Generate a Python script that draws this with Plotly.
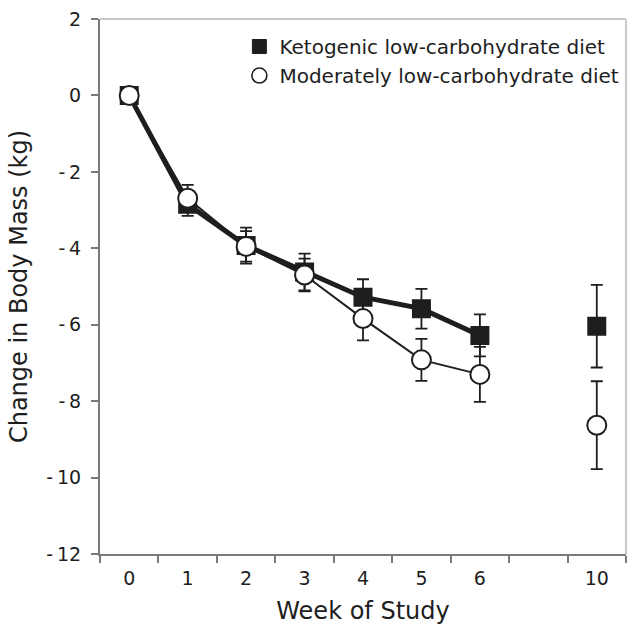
import plotly.graph_objects as go

# ---- data ----
slots = ["0", "1", "2", "3", "4", "5", "6", "gap", "10"]          # category slots on x
slot_labels = ["0", "1", "2", "3", "4", "5", "6", "", "10"]       # shown tick labels
weeks = ["0", "1", "2", "3", "4", "5", "6", "10"]

keto_mean = [0.0, -2.85, -3.93, -4.62, -5.28, -5.58, -6.28, -6.04]
keto_err = [0.0, 0.30, 0.47, 0.48, 0.47, 0.52, 0.55, 1.08]

mod_mean = [0.0, -2.69, -3.95, -4.70, -5.84, -6.92, -7.30, -8.63]
mod_err = [0.0, 0.35, 0.40, 0.43, 0.57, 0.55, 0.72, 1.15]

series_names = ["Ketogenic low-carbohydrate diet", "Moderately low-carbohydrate diet"]

y_ticks = [2, 0, -2, -4, -6, -8, -10, -12]
y_tick_text = ["2", "0", "-\u20092", "-\u20094", "-\u20096", "-\u20098", "-\u200910", "-\u200912"]

INK = "#1e1e1e"
AXIS = "#7a7a7a"
FRAME = "#c9c9c9"
FONT = "DejaVu Sans, Liberation Sans, Arial, sans-serif"

fig = go.Figure()

n_conn = 7  # weeks 0-6 connected; week 10 stands alone


def add_series(mean, err, symbol, fill, lw, msize):
    eb = dict(type="data", visible=True, color=INK, thickness=1.8, width=6)
    fig.add_trace(go.Scatter(
        x=weeks[:n_conn], y=mean[:n_conn], mode="lines+markers",
        line=dict(color=INK, width=lw),
        marker=dict(symbol=symbol, size=msize, color=fill, line=dict(color=INK, width=2)),
        error_y=dict(array=err[:n_conn], **eb), showlegend=False, hoverinfo="skip"))
    fig.add_trace(go.Scatter(
        x=weeks[n_conn:], y=mean[n_conn:], mode="markers",
        marker=dict(symbol=symbol, size=msize, color=fill, line=dict(color=INK, width=2)),
        error_y=dict(array=err[n_conn:], **eb), showlegend=False, hoverinfo="skip"))


add_series(keto_mean, keto_err, "square", INK, 5, 17)
add_series(mod_mean, mod_err, "circle", "white", 2, 19)

# legend-only entries (markers, no lines)
fig.add_trace(go.Scatter(x=[None], y=[None], mode="markers", name=series_names[0],
                         marker=dict(symbol="square", size=14, color=INK, line=dict(color=INK, width=1))))
fig.add_trace(go.Scatter(x=[None], y=[None], mode="markers", name=series_names[1],
                         marker=dict(symbol="circle", size=15, color="white", line=dict(color=INK, width=1.6))))

fig.update_layout(
    width=630, height=631,
    margin=dict(l=100, r=4, t=19, b=77),
    paper_bgcolor="white", plot_bgcolor="white",
    font=dict(family=FONT, color=INK, size=19),
    showlegend=True,
    legend=dict(x=0.265, y=0.985, xanchor="left", yanchor="top",
                bgcolor="rgba(0,0,0,0)", font=dict(size=20, color=INK),
                itemsizing="trace", tracegroupgap=0),
    xaxis=dict(
        type="category", categoryorder="array", categoryarray=slots,
        tickmode="array", tickvals=slots, ticktext=slot_labels,
        range=[-0.5, 8.5], tickson="boundaries",
        ticks="outside", ticklen=7, tickwidth=2, tickcolor=AXIS,
        showline=True, linecolor=AXIS, linewidth=2, showgrid=False, zeroline=False,
        tickfont=dict(size=19), ticklabelstandoff=6,
        title=dict(text="Week of Study", font=dict(size=24), standoff=14),
    ),
    yaxis=dict(
        range=[-12, 2], tickmode="array", tickvals=y_ticks, ticktext=y_tick_text,
        ticks="outside", ticklen=7, tickwidth=2, tickcolor=AXIS,
        showline=True, linecolor=AXIS, linewidth=2, showgrid=False, zeroline=False,
        tickfont=dict(size=19), ticklabelstandoff=6,
        title=dict(text="Change in Body Mass (kg)", font=dict(size=24), standoff=12),
    ),
)

# light frame on top and right
fig.add_shape(type="line", xref="paper", yref="paper", x0=0, x1=1, y0=1, y1=1,
              line=dict(color=FRAME, width=2))
fig.add_shape(type="line", xref="paper", yref="paper", x0=1, x1=1, y0=0, y1=1,
              line=dict(color=FRAME, width=2))

fig.write_html("out.html")
